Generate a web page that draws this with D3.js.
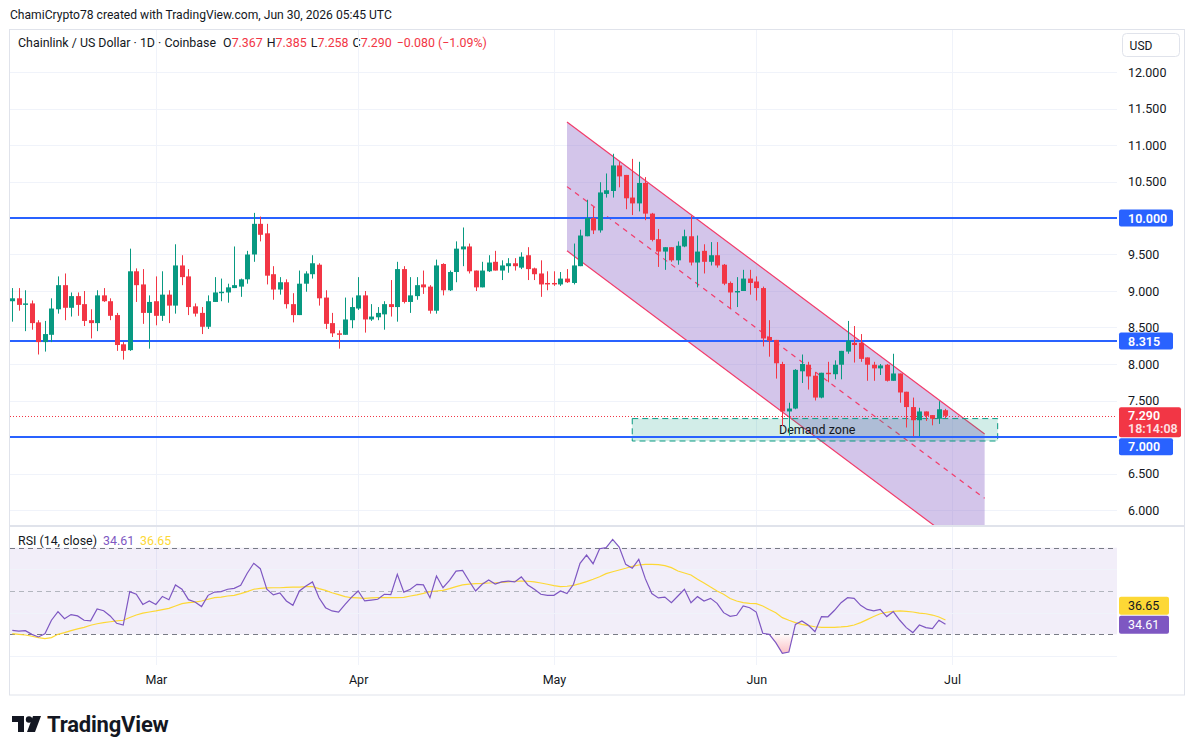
<!DOCTYPE html>
<html><head><meta charset="utf-8">
<script src="https://cdn.jsdelivr.net/npm/d3@7/dist/d3.min.js"></script>
<style>
body{margin:0;background:#fff;}
svg{display:block;font-family:Roboto,"Liberation Sans",Arial,sans-serif;}
</style></head><body>
<svg id="c" width="1195" height="755"></svg>
<script>
// ---------------- DATA ----------------
const firstDay = "2026-02-07";
const lastDayExclusive = "2026-07-01";
const opens = [8.86,8.90,8.81,8.83,8.57,8.30,8.40,8.75,9.08,8.77,8.93,8.82,8.60,8.56,8.94,8.86,8.67,8.27,8.19,9.27,
9.09,8.70,8.86,8.66,8.95,8.80,9.35,9.20,8.79,8.70,8.51,8.85,8.97,8.98,9.04,9.06,9.16,9.50,9.92,9.79,
9.23,9.02,9.12,8.82,8.67,9.10,9.23,9.36,8.91,8.56,8.42,8.40,8.60,8.76,8.94,8.61,8.64,8.68,8.82,8.78,
9.30,8.85,8.93,9.09,9.06,8.73,9.37,9.01,9.26,9.57,9.61,9.28,9.05,9.27,9.40,9.28,9.34,9.38,9.32,9.49,
9.31,9.24,9.11,9.11,9.09,9.17,9.11,9.34,9.75,10.00,9.83,10.33,10.37,10.72,10.59,10.28,10.20,10.48,10.06,9.71,
9.54,9.60,9.42,9.61,9.75,9.39,9.55,9.40,9.49,9.36,9.11,8.98,9.00,9.17,9.13,9.04,8.37,8.33,8.00,7.35,
7.39,7.90,7.99,7.84,7.54,7.88,7.86,7.99,8.17,8.29,8.29,8.09,7.99,7.94,7.99,7.77,7.87,7.62,7.41,7.23,
7.35,7.30,7.25,7.367];
const highs = [9.04,9.04,9.01,8.87,8.60,8.59,8.90,9.20,9.24,8.98,8.98,9.00,8.75,9.01,9.04,8.90,8.70,8.30,9.58,9.31,
9.30,8.94,9.20,9.27,9.01,9.64,9.49,9.30,8.83,8.78,8.94,9.19,9.17,9.10,9.61,9.17,9.55,10.07,10.02,9.92,
9.34,9.19,9.16,8.97,9.28,9.27,9.49,9.38,9.01,8.70,8.46,8.91,8.91,9.19,9.00,8.82,8.78,8.86,9.15,9.40,
9.34,9.19,9.19,9.28,9.08,9.43,9.38,9.28,9.68,9.87,9.65,9.28,9.40,9.49,9.55,9.42,9.45,9.45,9.53,9.60,
9.32,9.42,9.27,9.27,9.26,9.30,9.65,9.84,10.25,10.15,10.49,10.61,10.88,10.77,10.59,10.81,10.77,10.56,10.07,9.85,
9.60,9.60,9.68,9.84,10.03,9.76,9.64,9.67,9.67,9.37,9.13,9.19,9.29,9.29,9.20,9.06,8.60,8.33,8.03,7.47,
7.93,8.13,8.03,7.89,7.88,8.03,8.05,8.18,8.59,8.52,8.41,8.09,8.03,8.00,8.00,8.14,7.87,7.62,7.54,7.40,
7.35,7.30,7.49,7.385];
const lows = [8.58,8.73,8.45,8.47,8.13,8.17,8.30,8.69,8.60,8.65,8.66,8.52,8.35,8.45,8.85,8.60,8.18,8.06,8.18,8.85,
8.55,8.21,8.53,8.59,8.56,8.69,9.08,8.67,8.65,8.41,8.48,8.85,8.86,8.84,9.04,8.92,9.10,9.40,9.68,9.09,
8.88,8.95,8.76,8.57,8.67,8.99,9.17,8.80,8.48,8.37,8.21,8.40,8.49,8.74,8.43,8.59,8.60,8.47,8.65,8.58,
8.83,8.70,8.88,8.96,8.69,8.69,8.94,9.00,9.12,9.34,9.24,9.00,9.05,9.26,9.28,9.15,9.25,9.28,9.30,9.15,
9.15,8.92,9.01,9.07,9.07,9.11,9.09,9.34,9.75,9.78,9.80,10.28,10.28,10.42,10.12,10.04,10.09,9.97,9.68,9.33,
9.29,9.40,9.36,9.60,9.35,9.05,9.24,9.35,9.32,9.08,8.76,8.78,9.00,8.95,8.87,8.24,8.10,7.80,7.15,7.02,
7.38,7.74,7.65,7.50,7.53,7.75,7.79,7.79,8.14,8.02,8.03,7.77,7.77,7.85,7.76,7.77,7.47,7.13,7.01,7.01,
7.22,7.16,7.18,7.258];
const closes = [8.90,8.81,8.83,8.56,8.30,8.41,8.76,9.08,8.77,8.93,8.81,8.59,8.56,8.94,8.86,8.66,8.26,8.18,9.27,9.08,
8.70,8.85,8.66,8.95,8.80,9.35,9.19,8.78,8.69,8.51,8.86,8.98,8.99,9.05,9.08,9.16,9.50,9.92,9.77,9.21,
9.02,9.12,8.82,8.67,9.10,9.24,9.38,8.90,8.55,8.42,8.40,8.61,8.78,8.94,8.61,8.65,8.70,8.82,8.78,9.30,
8.85,8.94,9.08,9.05,8.73,9.35,9.01,9.26,9.58,9.61,9.27,9.05,9.28,9.39,9.28,9.35,9.38,9.34,9.47,9.30,
9.23,9.09,9.09,9.09,9.17,9.12,9.35,9.76,10.00,9.83,10.35,10.38,10.72,10.57,10.27,10.20,10.48,10.06,9.70,9.54,
9.60,9.42,9.62,9.75,9.39,9.54,9.40,9.49,9.35,9.10,8.98,9.00,9.17,9.11,9.04,8.35,8.32,8.01,7.35,7.39,
7.92,8.00,7.83,7.54,7.88,7.86,7.99,8.18,8.32,8.26,8.07,7.99,7.94,7.98,7.77,7.87,7.61,7.41,7.23,7.35,
7.29,7.25,7.38,7.29];
const rsiValues = [31.8,31.5,31.7,30.0,28.8,30.3,36.5,40.5,37.2,39.1,38.5,36.5,36.2,41.7,40.9,38.5,35.1,34.3,49.7,48.5,
43.8,45.4,43.8,47.5,46.0,52.8,50.8,46.0,44.9,42.8,48.0,49.5,49.7,50.8,51.2,52.6,58.2,62.8,60.3,50.8,
48.2,49.1,45.4,43.4,50.0,52.3,54.2,46.9,42.3,40.8,40.3,43.8,47.2,50.0,45.4,45.8,46.2,48.5,48.3,57.7,
49.5,50.8,53.1,52.8,46.9,56.9,51.5,54.9,59.2,59.5,54.6,50.0,53.1,55.1,53.2,54.2,54.6,54.2,56.5,52.8,
50.8,48.5,48.0,48.0,50.0,48.8,53.1,62.8,66.6,62.6,69.5,70.0,73.8,70.3,62.3,60.5,64.6,55.7,48.8,46.8,
47.2,44.6,47.7,50.8,44.6,47.4,45.4,46.6,44.3,40.0,38.3,38.8,43.1,42.3,40.3,30.5,30.0,26.2,21.2,21.8,
34.6,36.2,34.2,31.2,38.2,38.1,41.1,44.6,46.9,46.6,43.4,41.5,40.8,41.5,38.2,40.5,36.5,33.1,30.8,34.3,
33.1,32.6,36.5,34.61];
const rsiMA = [30.3,30.0,29.7,29.1,28.5,28.0,28.5,30.0,30.8,31.7,32.5,33.2,34.2,34.9,35.4,35.8,36.2,36.5,37.8,38.9,
39.8,40.3,40.8,41.4,42.0,43.1,44.2,44.6,44.9,45.4,46.2,46.9,47.2,47.7,48.0,48.8,49.7,50.8,51.2,51.4,
51.5,51.5,51.7,51.8,51.8,52.0,52.0,51.1,50.3,49.2,48.3,47.4,46.9,46.8,46.6,46.8,46.9,46.9,46.9,46.9,
47.1,47.7,48.2,48.9,49.7,50.0,50.3,51.1,52.0,52.8,53.2,53.4,53.5,53.7,53.8,54.0,54.2,54.5,54.6,54.5,
54.2,53.7,53.1,52.5,52.0,52.2,52.6,53.4,54.3,55.4,56.6,58.0,58.9,59.7,60.5,61.4,62.0,62.3,62.3,62.2,
61.7,60.8,59.2,58.3,57.4,55.4,53.7,51.8,50.0,48.5,46.5,45.4,44.6,44.3,44.2,43.1,41.5,40.0,37.7,36.5,
35.4,34.6,34.0,33.5,33.2,33.2,33.2,33.4,33.7,34.3,35.4,36.8,38.2,39.5,40.2,40.6,40.8,40.6,40.3,39.8,
39.5,38.9,38.0,36.65];
const priceTicks = [6,6.5,7,7.5,8,8.5,9,9.5,10,10.5,11,11.5,12];
const priceTickLabels = [6,6.5,7.5,8,8.5,9,9.5,10.5,11,11.5,12];   // 7 and 10 sit under their level boxes
const rsiTicks = [20,40,60,80];
const rsiTickLabels = [20,60,80];                                   // 40 sits under the value boxes
const rsiLevels = [70,50,30];
const monthTicks = ["2026-03-01","2026-04-01","2026-05-01","2026-06-01","2026-07-01"];
const hLevels = [10.0, 8.315, 7.0];
const lastPrice = 7.29;
const countdown = "18:14:08";
const channelDates = ["2026-05-03","2026-07-06"];
const channelUpper = [11.315, 7.04];
const channelMid = [10.43, 6.16];
const channelLower = [9.55, 5.27];
const zoneDates = ["2026-05-13","2026-07-08"];
const zonePrices = [7.252, 6.945];
const lastRsi = "34.61", lastMa = "36.65";

// ---------------- LAYOUT ----------------
const svg = d3.select("#c");
const L=10, R=1117, mainTop=30, mainBot=525, rsiTop=527, rsiBot=665, frameBot=695;
const GREEN="#089981", RED="#f23645", BLUE="#2962ff", GRID="#f0f3fa", TXT="#131722";
const pd = d3.utcParse("%Y-%m-%d");
const dates = d3.utcDay.range(pd(firstDay), pd(lastDayExclusive));
const data = dates.map((d,i)=>({d,o:opens[i],h:highs[i],l:lows[i],c:closes[i],r:rsiValues[i],m:rsiMA[i]}));

const x = d3.scaleUtc().domain([pd(firstDay), pd(lastDayExclusive)]).range([12.3, 952]);
const y = d3.scaleLinear().domain([6,12]).range([510,72]);
const yr = d3.scaleLinear().domain([20,80]).range([656,526]);

const defs = svg.append("defs");
defs.append("clipPath").attr("id","mainClip").append("rect").attr("x",L).attr("y",mainTop).attr("width",R-L).attr("height",mainBot-mainTop);
defs.append("clipPath").attr("id","rsiClip").append("rect").attr("x",L).attr("y",rsiTop).attr("width",R-L).attr("height",rsiBot-rsiTop);
defs.append("clipPath").attr("id","below30").append("rect").attr("x",L).attr("y",yr(30)).attr("width",R-L).attr("height",rsiBot-yr(30));
defs.append("clipPath").attr("id","above70").append("rect").attr("x",L).attr("y",rsiTop).attr("width",R-L).attr("height",yr(70)-rsiTop);
defs.append("clipPath").attr("id","rsiAxisClip").append("rect").attr("x",R).attr("y",rsiTop).attr("width",80).attr("height",rsiBot-rsiTop);
const gOs = defs.append("linearGradient").attr("id","osGrad").attr("gradientUnits","userSpaceOnUse").attr("x1",0).attr("x2",0)
  .attr("y1",yr(30)).attr("y2",yr(20));
gOs.append("stop").attr("offset",0).attr("stop-color",RED).attr("stop-opacity",0.02);
gOs.append("stop").attr("offset",1).attr("stop-color",RED).attr("stop-opacity",0.35);
const gOb = defs.append("linearGradient").attr("id","obGrad").attr("gradientUnits","userSpaceOnUse").attr("x1",0).attr("x2",0)
  .attr("y1",yr(80)).attr("y2",yr(70));
gOb.append("stop").attr("offset",0).attr("stop-color",GREEN).attr("stop-opacity",0.3);
gOb.append("stop").attr("offset",1).attr("stop-color",GREEN).attr("stop-opacity",0.02);

// frame
svg.append("rect").attr("x",9.5).attr("y",29.5).attr("width",1175).attr("height",frameBot-29.5).attr("fill","none").attr("stroke","#e0e3eb");

// header
svg.append("text").attr("x",10).attr("y",19).attr("font-size",12.1).attr("fill",TXT)
  .text("ChamiCrypto78 created with TradingView.com, Jun 30, 2026 05:45 UTC");
const hdr = svg.append("text").attr("x",18).attr("y",47).attr("font-size",12.4).attr("fill",TXT);
hdr.append("tspan").text("Chainlink / US Dollar · 1D · Coinbase ");
[["O",opens[143].toFixed(3)],["H",highs[143].toFixed(3)],["L",lows[143].toFixed(3)],["C",closes[143].toFixed(3)]].forEach(([k,v])=>{
  hdr.append("tspan").attr("dx",4).attr("fill",TXT).text(k);
  hdr.append("tspan").attr("fill",RED).text(v);
});
hdr.append("tspan").attr("dx",5).attr("fill",RED).text("−0.080 (−1.09%)");

// grids
const gridG = svg.append("g");
priceTicks.forEach(p=>{
  gridG.append("line").attr("x1",L).attr("x2",R).attr("y1",Math.round(y(p))+0.5).attr("y2",Math.round(y(p))+0.5).attr("stroke",GRID);
});
monthTicks.forEach(m=>{
  const xx = Math.round(x(pd(m)))+0.5;
  gridG.append("line").attr("x1",xx).attr("x2",xx).attr("y1",mainTop).attr("y2",mainBot).attr("stroke",GRID);
  gridG.append("line").attr("x1",xx).attr("x2",xx).attr("y1",rsiTop).attr("y2",rsiBot).attr("stroke",GRID);
});

// main pane
const main = svg.append("g").attr("clip-path","url(#mainClip)");
const ch = channelDates.map(pd);
const poly = [[x(ch[0]),y(channelUpper[0])],[x(ch[1]),y(channelUpper[1])],[x(ch[1]),y(channelLower[1])],[x(ch[0]),y(channelLower[0])]];
main.append("path").attr("d","M"+poly.map(p=>p.join(",")).join("L")+"Z").attr("fill","rgba(149,117,205,0.42)");
main.append("line").attr("x1",x(ch[0])).attr("y1",y(channelUpper[0])).attr("x2",x(ch[1])).attr("y2",y(channelUpper[1])).attr("stroke","#f23c6b").attr("stroke-width",1.2);
main.append("line").attr("x1",x(ch[0])).attr("y1",y(channelLower[0])).attr("x2",x(ch[1])).attr("y2",y(channelLower[1])).attr("stroke","#f23c6b").attr("stroke-width",1.2);
main.append("line").attr("x1",x(ch[0])).attr("y1",y(channelMid[0])).attr("x2",x(ch[1])).attr("y2",y(channelMid[1])).attr("stroke","#f23c6b").attr("stroke-width",1.2).attr("stroke-dasharray","5,5");

// demand zone
const zd = zoneDates.map(pd);
main.append("rect").attr("x",x(zd[0])).attr("y",y(zonePrices[0])).attr("width",x(zd[1])-x(zd[0])).attr("height",y(zonePrices[1])-y(zonePrices[0]))
  .attr("fill","rgba(8,153,129,0.18)").attr("stroke",GREEN).attr("stroke-dasharray","6,4").attr("stroke-width",1);
main.append("text").attr("x",779).attr("y",(y(zonePrices[0])+y(zonePrices[1]))/2+4.5).attr("font-size",12.5).attr("fill",TXT).text("Demand zone");

// horizontal levels
hLevels.forEach(p=>{
  main.append("line").attr("x1",L).attr("x2",R).attr("y1",y(p)).attr("y2",y(p)).attr("stroke",BLUE).attr("stroke-width",2);
});
main.append("line").attr("x1",L).attr("x2",R).attr("y1",Math.round(y(lastPrice))+0.5).attr("y2",Math.round(y(lastPrice))+0.5)
  .attr("stroke",RED).attr("stroke-dasharray","1,2");

// candles
const cg = main.append("g");
data.forEach(k=>{
  const xc = Math.round(x(k.d));
  const col = k.c>=k.o?GREEN:RED;
  cg.append("line").attr("x1",xc+0.5).attr("x2",xc+0.5).attr("y1",y(k.h)).attr("y2",y(k.l)).attr("stroke",col).attr("stroke-width",1);
  const top = y(Math.max(k.o,k.c)), bot=y(Math.min(k.o,k.c));
  cg.append("rect").attr("x",xc-2).attr("width",5).attr("y",top).attr("height",Math.max(1,bot-top)).attr("fill",col);
});

// pane separator
svg.append("line").attr("x1",L).attr("x2",1185).attr("y1",526).attr("y2",526).attr("stroke","#e0e3eb").attr("stroke-width",2);

// RSI pane
const rg = svg.append("g").attr("clip-path","url(#rsiClip)");
rg.append("rect").attr("x",L).attr("width",R-L).attr("y",yr(70)).attr("height",yr(30)-yr(70)).attr("fill","rgba(126,87,194,0.1)");
rsiTicks.forEach(t=>{
  rg.append("line").attr("x1",L).attr("x2",R).attr("y1",Math.round(yr(t))+0.5).attr("y2",Math.round(yr(t))+0.5).attr("stroke",GRID);
});
rsiLevels.forEach(t=>{
  rg.append("line").attr("x1",L).attr("x2",R).attr("y1",Math.round(yr(t))+0.5).attr("y2",Math.round(yr(t))+0.5)
    .attr("stroke",t===50?"#b2b5be":"#787b86").attr("stroke-dasharray","5,4");
});
const areaOs = d3.area().x(k=>x(k.d)).y0(yr(30)).y1(k=>yr(k.r));
rg.append("path").datum(data).attr("d",areaOs).attr("fill","url(#osGrad)").attr("clip-path","url(#below30)");
const areaOb = d3.area().x(k=>x(k.d)).y0(yr(70)).y1(k=>yr(k.r));
rg.append("path").datum(data).attr("d",areaOb).attr("fill","url(#obGrad)").attr("clip-path","url(#above70)");
rg.append("path").datum(data).attr("d",d3.line().x(k=>x(k.d)).y(k=>yr(k.m))).attr("fill","none").attr("stroke","#fdd835").attr("stroke-width",1.2);
rg.append("path").datum(data).attr("d",d3.line().x(k=>x(k.d)).y(k=>yr(k.r))).attr("fill","none").attr("stroke","#7e57c2").attr("stroke-width",1.2);

const rl = svg.append("text").attr("x",18).attr("y",545).attr("font-size",12.4).attr("fill",TXT);
rl.append("tspan").text("RSI (14, close)");
rl.append("tspan").attr("dx",6).attr("fill","#7e57c2").text(lastRsi);
rl.append("tspan").attr("dx",6).attr("fill","#fdd835").text(lastMa);

// price axis
const pa = svg.append("g").attr("transform",`translate(${R},0)`)
  .call(d3.axisRight(y).tickValues(priceTickLabels).tickFormat(d3.format(".3f")).tickSize(0).tickPadding(11));
pa.select(".domain").remove();
pa.selectAll("text").attr("font-size",12.5).attr("fill",TXT).attr("font-family","Roboto,Arial,sans-serif");

// RSI axis
const ra = svg.append("g").attr("transform",`translate(${R},0)`).attr("clip-path","url(#rsiAxisClip)")
  .call(d3.axisRight(yr).tickValues(rsiTickLabels).tickFormat(d3.format(".2f")).tickSize(0).tickPadding(11));
ra.select(".domain").remove();
ra.selectAll("text").attr("font-size",12.5).attr("fill",TXT).attr("font-family","Roboto,Arial,sans-serif");

// time axis
const ta = svg.append("g").attr("transform",`translate(0,${rsiBot})`)
  .call(d3.axisBottom(x).tickValues(monthTicks.map(pd)).tickFormat(d3.utcFormat("%b")).tickSize(0).tickPadding(10));
ta.select(".domain").remove();
ta.selectAll("text").attr("font-size",12.5).attr("fill",TXT).attr("font-family","Roboto,Arial,sans-serif");

// USD box
svg.append("rect").attr("x",1122.5).attr("y",33.5).attr("width",57).attr("height",23).attr("rx",4).attr("fill","#fff").attr("stroke","#e0e3eb");
svg.append("text").attr("x",1141).attr("y",49.5).attr("text-anchor","middle").attr("font-size",12).attr("fill",TXT).text("USD");

// axis labels
const lblG = svg.append("g");
function axisBox(yc, h, w, fill){
  lblG.append("rect").attr("x",R+2).attr("y",yc).attr("width",w).attr("height",h).attr("rx",2).attr("fill",fill);
}
function axisText(yy, txt, col, bold){
  lblG.append("text").attr("x",R+11).attr("y",yy).attr("font-size",12.5).attr("fill",col).attr("font-weight",bold?"600":"400").text(txt);
}
[10.0, 8.315].forEach(p=>{
  const t = y(p)-8.5;
  axisBox(t,17,54,BLUE); axisText(t+13, d3.format(".3f")(p), "#fff", true);
});
const lpTop = y(lastPrice)-8.5;
axisBox(lpTop,30,62,RED);
axisText(lpTop+12.5, lastPrice.toFixed(3), "#fff", true);
axisText(lpTop+26, countdown, "#fde0e3", true);
const t7 = Math.max(y(7.0)-8.5, lpTop+31);
axisBox(t7,17,54,BLUE); axisText(t7+13, d3.format(".3f")(7.0), "#fff", true);
const maTop = yr(+lastMa)-8.5, rsTop = yr(+lastRsi)-8.5;
const maTop2 = Math.min(maTop, rsTop-19);
axisBox(maTop2,18,50,"#fdd835"); axisText(maTop2+13.5, lastMa, TXT, false);
axisBox(rsTop,18,50,"#7e57c2"); axisText(rsTop+13.5, lastRsi, "#fff", false);

// TradingView logo
const lg = svg.append("g").attr("fill",TXT);
lg.append("path").attr("d","M12,716 H24 V732 H18 V722 H12 Z");
lg.append("circle").attr("cx",29).attr("cy",719.5).attr("r",3.2);
lg.append("path").attr("d","M33,716 H41 L35,732 H27 Z");
svg.append("text").attr("x",47).attr("y",732).attr("font-size",22).attr("font-weight",700).attr("fill",TXT).attr("letter-spacing",-0.2).text("TradingView");
</script>
</body></html>
